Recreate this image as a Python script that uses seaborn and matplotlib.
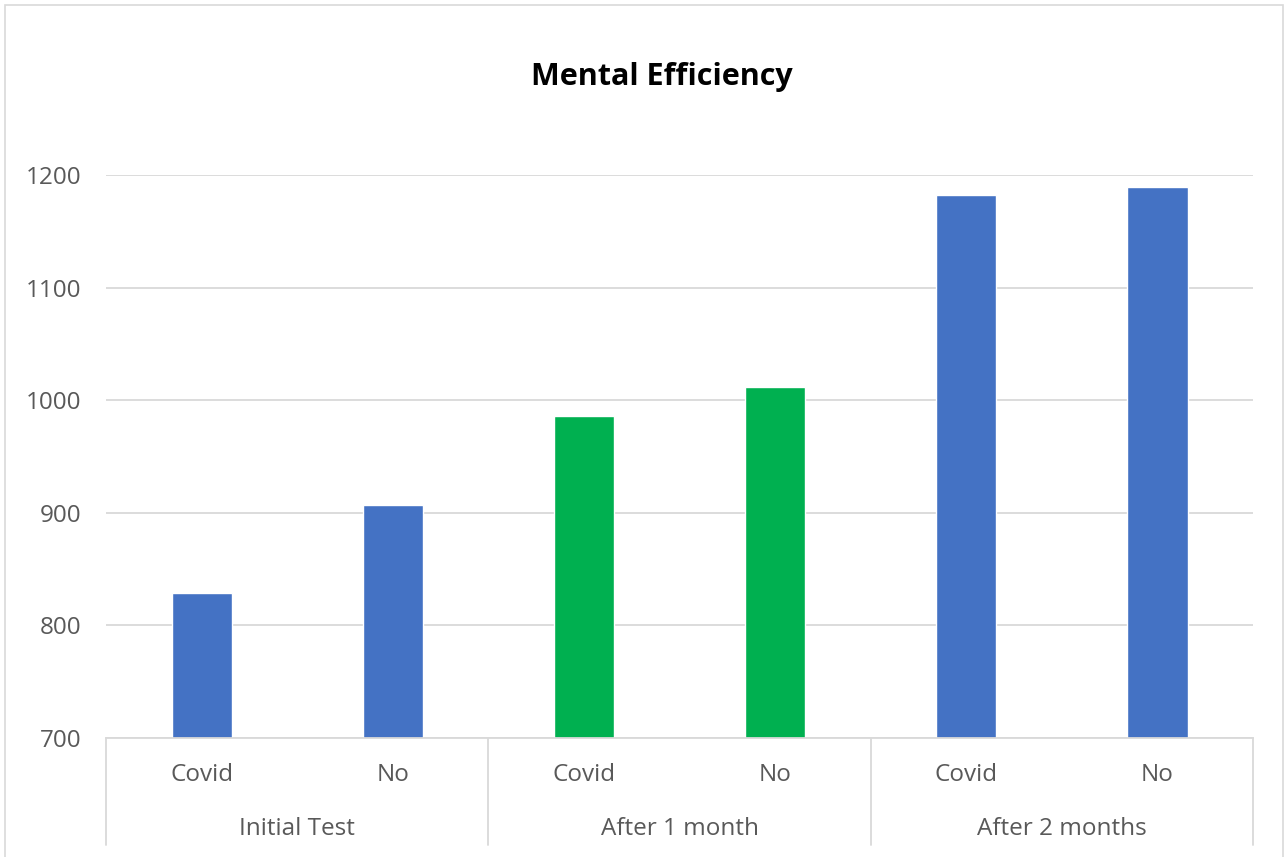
import matplotlib
matplotlib.use("Agg")
import matplotlib.pyplot as plt
import matplotlib.transforms as mtransforms
from matplotlib.patches import Rectangle
import seaborn as sns
import pandas as pd

# data
groups = ["Initial Test", "After 1 month", "After 2 months"]
subgroups = ["Covid", "No"]
covid_scores = [829, 986, 1182]
no_covid_scores = [907, 1012, 1189]
group_colors = ["#4472C4", "#00B050", "#4472C4"]
y_ticks = [700, 800, 900, 1000, 1100, 1200]

rows = []
for g, c, n, col in zip(groups, covid_scores, no_covid_scores, group_colors):
    rows.append({"slot": f"{g}|Covid", "group": g, "sub": "Covid", "score": c, "color": col})
    rows.append({"slot": f"{g}|No", "group": g, "sub": "No", "score": n, "color": col})
df = pd.DataFrame(rows)

sns.set_theme(style="white")
plt.rcParams["font.family"] = ["Open Sans", "DejaVu Sans"]

fig = plt.figure(figsize=(12.87, 8.57), dpi=100)
ax = fig.add_axes([0.0824, 0.1389, 0.8912, 0.6569])

sns.barplot(data=df, x="slot", y="score", hue="slot",
            palette=dict(zip(df["slot"], df["color"])), legend=False,
            width=0.315, saturation=1, ax=ax)

ax.set_ylim(700, 1200)
ax.set_xlim(-0.5, len(df) - 0.5)
ax.set_yticks(y_ticks)
ax.set_yticklabels([str(v) for v in y_ticks], fontsize=17.5, color="#595959")
ax.tick_params(axis="y", length=0, pad=18)
ax.set_xticks([])
ax.set_xlabel("")
ax.set_ylabel("")
ax.yaxis.grid(True, color="#d9d9d9", lw=1.3)
ax.set_axisbelow(True)
for side in ["top", "right", "left"]:
    ax.spines[side].set_visible(False)
ax.spines["bottom"].set_color("#d9d9d9")
ax.spines["bottom"].set_linewidth(1.3)

trans = mtransforms.blended_transform_factory(ax.transData, ax.transAxes)
for i, sub in enumerate(df["sub"]):
    ax.text(i, -0.066, sub, transform=trans, ha="center", va="center",
            fontsize=17.5, color="#595959")
for k, g in enumerate(groups):
    ax.text(2 * k + 0.5, -0.162, g, transform=trans, ha="center", va="center",
            fontsize=17.5, color="#595959")
for xb in [-0.5, 1.5, 3.5, 5.5]:
    ax.plot([xb, xb], [0, -0.19], transform=trans, color="#d9d9d9",
            lw=1.3, clip_on=False)

fig.text(0.514, 0.91, "Mental Efficiency", ha="center", va="center",
         fontsize=22, fontweight="bold", color="black")

fig.patches.append(Rectangle((0.004, -0.01), 0.993, 1.004, transform=fig.transFigure,
                             fill=False, edgecolor="#d9d9d9", lw=1.2))

fig.savefig("out.png", dpi=100)
